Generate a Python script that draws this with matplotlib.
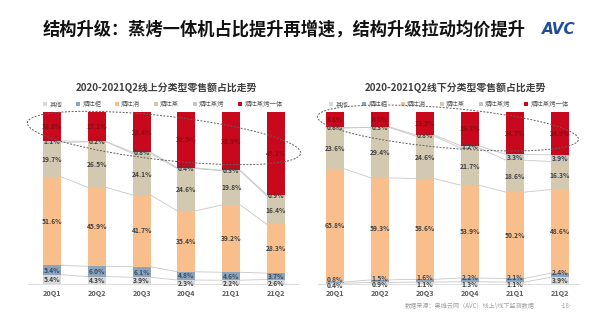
import numpy as np
import matplotlib
matplotlib.use('Agg')
import matplotlib.pyplot as plt
from matplotlib.patches import Ellipse
from matplotlib.transforms import Affine2D

plt.rcParams['font.family'] = ['Noto Sans CJK SC', 'DejaVu Sans']

quarters = ['20Q1', '20Q2', '20Q3', '20Q4', '21Q1', '21Q2']
series_names = ['其他', '烟灶柜', '烟灶消', '烟灶蒸', '烟灶蒸烤', '烟灶蒸烤一体']

# 线上 (%)
online_qita = [5.4, 4.3, 3.9, 2.3, 2.2, 2.6]
online_gui = [5.4, 6.0, 6.1, 4.8, 4.6, 3.7]
online_xiao = [51.6, 45.9, 41.7, 35.4, 39.2, 28.3]
online_zheng = [19.7, 26.5, 24.1, 24.6, 19.8, 16.4]
online_zhengkao = [1.1, 0.2, 0.8, 0.4, 0.3, 0.9]
online_yiti = [16.8, 17.1, 23.4, 32.5, 33.9, 48.1]

# 线下 (%)
offline_qita = [0.4, 0.9, 1.1, 1.3, 1.1, 3.9]
offline_gui = [0.8, 1.5, 1.6, 2.2, 2.1, 2.4]
offline_xiao = [65.8, 59.3, 58.6, 53.9, 50.2, 48.6]
offline_zheng = [23.6, 29.4, 24.6, 21.7, 18.6, 16.3]
offline_zhengkao = [0.8, 0.3, 0.8, 1.2, 3.3, 3.9]
offline_yiti = [8.6, 8.6, 13.3, 19.7, 24.7, 24.9]

colors = ['#d9d9d9', '#8da4bd', '#f8bf8c', '#d3c9b1', '#c4c4c4', '#c8081c']
label_colors = ['#404040', '#3a4a5e', '#404040', '#404040', '#404040', '#8a0a14']
# small nudges for labels of very thin bottom segments
small_shift = [-1.0, 1.6, 0, 0, 0, 0]

W, H = 600, 323
fig = plt.figure(figsize=(6.0, 3.23), dpi=100)
px = Affine2D().scale(1 / 100) + fig.dpi_scale_trans  # pixel coords, origin bottom-left


def fx(x):
    return x / W


def fy(y):
    return 1 - y / H


def draw_chart(rect, xlim, series, subtitle, sub_x):
    ax = fig.add_axes(rect)
    x = np.arange(len(quarters))
    bw = 0.40
    bottom = np.zeros(len(quarters))
    tops = []
    for k, (vals, name, c, lc) in enumerate(zip(series, series_names, colors, label_colors)):
        vals = np.array(vals)
        ax.bar(x, vals, bw, bottom=bottom, color=c, label=name, zorder=3)
        for xi, b, v in zip(x, bottom, vals):
            yy = b + v / 2
            if v < 3:
                yy += small_shift[k]
            ax.text(xi, yy, f'{v:.1f}%', ha='center', va='center',
                    fontsize=4.8, fontweight='bold', color=lc, zorder=5)
        bottom = bottom + vals
        tops.append(bottom.copy())
    # series lines between bars
    for t in tops[:-1]:
        for i in range(len(x) - 1):
            ax.plot([x[i] + bw / 2, x[i + 1] - bw / 2], [t[i], t[i + 1]],
                    color='#c8c8c8', lw=0.6, zorder=2)
    ax.set_xlim(*xlim)
    ax.set_ylim(0, 100)
    ax.set_xticks(x)
    ax.set_xticklabels(quarters, fontsize=5.2, fontweight='bold', color='#595959')
    ax.tick_params(length=0, pad=4)
    ax.set_yticks([])
    for s in ['top', 'left', 'right']:
        ax.spines[s].set_visible(False)
    ax.spines['bottom'].set_color('#d9d9d9')
    ax.spines['bottom'].set_linewidth(0.6)
    leg = ax.legend(loc='lower center', bbox_to_anchor=(0.5, 1.0), ncol=6,
                    frameon=False, fontsize=4.6, handlelength=0.6, handleheight=0.6,
                    handletextpad=0.4, columnspacing=2.1, borderaxespad=0.2)
    for t in leg.get_texts():
        t.set_color('#595959')
    fig.text(fx(sub_x), fy(88), subtitle, ha='center', va='center',
             fontsize=7.1, fontweight='bold', color='#404040')
    return ax


online = [online_qita, online_gui, online_xiao, online_zheng, online_zhengkao, online_yiti]
offline = [offline_qita, offline_gui, offline_xiao, offline_zheng, offline_zhengkao, offline_yiti]

draw_chart([fx(28), fy(284), 270 / W, 172 / H], (-0.536, 5.49), online,
           '2020-2021Q2线上分类型零售额占比走势', 166)
draw_chart([fx(318), fy(284), 262 / W, 172 / H], (-0.378, 5.444), offline,
           '2020-2021Q2线下分类型零售额占比走势', 455)

# dashed ovals around the 蒸烤一体 segments
for cx, cy, w, h, ang in [(164, 138, 275, 44, -6.4), (448, 128, 262, 40, -5.0)]:
    e = Ellipse((cx, H - cy), w, h, angle=ang, fill=False, ls=(0, (2, 1.5)),
                lw=0.7, edgecolor='#606060', transform=px, zorder=10)
    fig.add_artist(e)

fig.text(fx(284), fy(30), '结构升级：蒸烤一体机占比提升再增速，结构升级拉动均价提升',
         ha='center', va='center', fontsize=12.4, fontweight='bold', color='#111111')
fig.text(fx(576), fy(30), 'AVC', ha='right', va='center', fontsize=11,
         fontweight='bold', fontstyle='italic', color='#1f4e9a', family='DejaVu Sans')

fig.text(fx(405), fy(306), '数据来源：奥维云网（AVC）线上\\线下监测数据', ha='left', va='center',
         fontsize=4.4, color='#a0a0a0')
fig.text(fx(566), fy(306), '-18-', ha='center', va='center', fontsize=4.4, color='#a0a0a0')

fig.savefig('out.png', dpi=100)
